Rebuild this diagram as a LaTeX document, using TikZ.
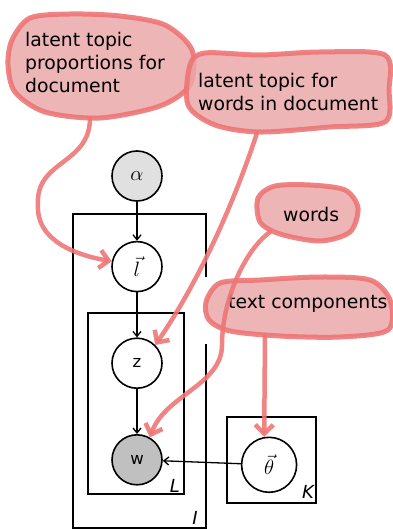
\documentclass[tikz,border=0pt]{standalone}
\usepackage{fontspec}
\setmainfont{DejaVu Sans}
\definecolor{Ink}{HTML}{000000}
\definecolor{NoteLine}{HTML}{EE7575}
\definecolor{NoteFill}{HTML}{EAA8A8}
\definecolor{PriorFill}{HTML}{E0E0E0}
\definecolor{ObsFill}{HTML}{C0C0C0}
\usetikzlibrary{arrows.meta,positioning}

\begin{document}
\begin{tikzpicture}[x=1pt,y=-1pt,
  var/.style={circle,draw=Ink,line width=1.6pt,minimum size=50pt,inner sep=0pt,fill=white,font=\fontsize{20.74}{24}\selectfont},
  plate/.style={draw=Ink,line width=1.8pt},
  platelabel/.style={font=\fontsize{18}{20}\selectfont\itshape,inner sep=0pt,anchor=base east},
  link/.style={-{Straight Barb[length=5pt,width=8pt]},line width=1.3pt,color=Ink},
  blob/.style={draw=NoteLine,fill=NoteFill,line width=5pt,fill opacity=0.85,draw opacity=0.9,line join=round},
  note/.style={font=\fontsize{18.8}{23}\selectfont,align=left,inner sep=0pt,anchor=base west},
  pointer/.style={-{Straight Barb[length=9pt,width=18pt]},line width=4.5pt,color=NoteLine,draw opacity=0.9,line cap=round}
]
\useasboundingbox (0,0) rectangle (392,529);

% model variables
\node[var,fill=PriorFill] (alpha) at (137,176) {$\alpha$};
\node[var,below=39pt of alpha] (topic) {$\vec{l}$};
\node[var,below=45pt of topic,font=\fontsize{16.5}{19}\selectfont] (z) {z};
\node[var,below=45pt of z,fill=ObsFill,font=\fontsize{16.5}{19}\selectfont] (w) {w};
\node[var,minimum size=55pt,right=78pt of w,yshift=-5pt] (theta) {$\vec{\theta}$};

% plates (outer one left open on the right)
\draw[plate] (206,277) -- (206,214) -- (73,214) -- (73,528) -- (206,528) -- (206,344);
\draw[plate] (88,313) rectangle (184,494);
\draw[plate] (227,417) rectangle (316,503);
\node[platelabel] (Ilab) at (198,524) {I};
\node[platelabel] (Llab) at (180,492) {L};
\node[platelabel] (Klab) at (314,498) {K};

\draw[link] (alpha) -- (topic);
\draw[link] (topic) -- (z);
\draw[link] (z) -- (w);
\draw[link] (theta) -- (w);

% callouts
\draw[blob] plot[smooth cycle] coordinates {(12,40) (30,18) (70,14) (120,16) (165,25) (192,50) (190,85) (160,106) (100,118) (45,112) (15,92) (8,65)};
\draw[blob] plot[smooth cycle] coordinates {(190,65) (205,53) (260,55) (320,52) (385,55) (389,90) (385,122) (330,127) (260,132) (215,125) (188,105)};
\draw[blob] plot[smooth cycle] coordinates {(258,198) (275,186) (310,185) (345,190) (358,208) (350,232) (320,241) (280,234) (260,222)};
\draw[blob] plot[smooth cycle] coordinates {(206,302) (220,283) (260,280) (320,277) (370,280) (390,300) (388,330) (340,337) (280,336) (230,331) (209,320)};

% base of a multi-line note sits on its last line
\node[note] (propnote) at (25,93) {latent topic\\proportions for\\document};
\node[note] (topicnote) at (198,111) {latent topic for\\words in document};
\node[note] (wordnote) at (283,221) {words};
\node[note] (compnote) at (228,308) {text components};

\coordinate (from1) at (90,118);
\coordinate (from2) at (257,133);
\coordinate (from3) at (270,232);
\coordinate (from4) at (265,335);
\draw[pointer] (from1) .. controls (90,165) and (35,160) .. (38,205) .. controls (36,240) and (75,255) .. (topic.168);
\draw[pointer] (from2) .. controls (235,200) and (200,280) .. (z.45);
\draw[pointer] (from3) .. controls (245,250) and (222,300) .. (222,345) .. controls (222,385) and (165,395) .. (w.60);
\draw[pointer] (from4) -- (theta.100);
\end{tikzpicture}
\end{document}
